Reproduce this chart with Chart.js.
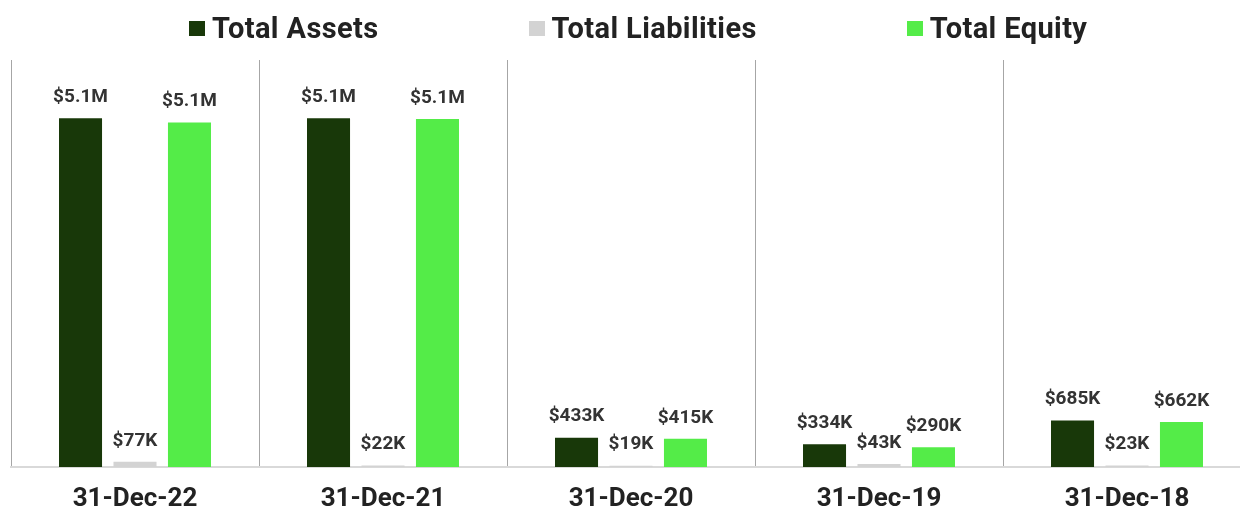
<!DOCTYPE html>
<html lang="en">

<head>
    <meta charset="UTF-8">
    <title>Balance Sheet</title>
    <style>
        body {
            margin: 0;
            width: 1240px;
            height: 510px;
            overflow: hidden;
            background: #fff;
            font-family: Roboto, "Noto Sans", sans-serif;
        }

        .wrap {
            position: relative;
            width: 1252px;
            height: 510px;
        }

        #legend {
            position: absolute;
            top: 11px;
            left: 189px;
            height: 34px;
            display: flex;
            align-items: center;
            font-weight: bold;
            font-size: 29px;
            letter-spacing: 0.4px;
            color: #222;
            white-space: nowrap;
        }

        .item {
            display: flex;
            align-items: center;
            margin-right: 150px;
        }

        .box {
            width: 16px;
            height: 15px;
            margin-right: 7px;
        }
    </style>
</head>

<body>
    <div class="wrap">
        <canvas id="myChart" width="1252" height="510"></canvas>
        <div id="legend"></div>
    </div>

    <script src="https://cdn.jsdelivr.net/npm/chart.js"></script>

    <script>
        // categories and series
        const labels = ['31-Dec-22', '31-Dec-21', '31-Dec-20', '31-Dec-19', '31-Dec-18'];
        const assets = [5140000, 5140000, 433000, 334000, 685000];
        const liabilities = [77000, 22000, 19000, 43000, 23000];
        const equity = [5080000, 5130000, 415000, 290000, 662000];
        const seriesNames = ['Total Assets', 'Total Liabilities', 'Total Equity'];
        const colors = ['#183809', '#d3d3d3', '#54ec48'];

        function money(v) {
            if (v >= 1000000) return '$' + (v / 1000000).toFixed(1) + 'M';
            return '$' + Math.round(v / 1000) + 'K';
        }

        // value labels above each bar
        const barLabels = {
            id: 'barLabels',
            afterDatasetsDraw(chart) {
                const ctx = chart.ctx;
                ctx.save();
                ctx.font = 'bold 19px Roboto';
                ctx.fillStyle = '#333';
                ctx.textAlign = 'center';
                ctx.textBaseline = 'middle';
                chart.data.datasets.forEach((ds, i) => {
                    chart.getDatasetMeta(i).data.forEach((bar, j) => {
                        ctx.fillText(money(ds.data[j]), bar.x, bar.y - 21);
                    });
                });
                ctx.restore();
            }
        };

        const data = {
            labels: labels,
            datasets: [assets, liabilities, equity].map((d, i) => ({
                label: seriesNames[i],
                data: d,
                backgroundColor: colors[i],
                categoryPercentage: 0.659,
                barPercentage: 0.79
            }))
        };

        const config = {
            type: 'bar',
            data: data,
            options: {
                responsive: false,
                animation: false,
                layout: {
                    // the axis reserves tick padding twice; take the lower one back
                    padding: { left: 11, right: 1, top: 60, bottom: -21 }
                },
                plugins: {
                    legend: { display: false },
                    tooltip: { enabled: false }
                },
                scales: {
                    x: {
                        grid: {
                            color: '#a6a6a6',
                            lineWidth: 1,
                            drawTicks: false
                        },
                        border: { display: true, color: '#d9d9d9', width: 2 },
                        ticks: {
                            color: '#222',
                            padding: 21,
                            font: { family: 'Roboto', size: 26, weight: 'bold', lineHeight: 22 / 26 }
                        }
                    },
                    y: {
                        display: false,
                        min: 0,
                        max: 6000000
                    }
                }
            },
            plugins: [barLabels]
        };

        const myChart = new Chart(document.getElementById('myChart'), config);

        // legend as html
        const legend = document.getElementById('legend');
        seriesNames.forEach((name, i) => {
            const item = document.createElement('div');
            item.className = 'item';
            item.innerHTML = '<span class="box" style="background:' + colors[i] + '"></span><span>' + name + '</span>';
            legend.appendChild(item);
        });
    </script>
</body>

</html>
